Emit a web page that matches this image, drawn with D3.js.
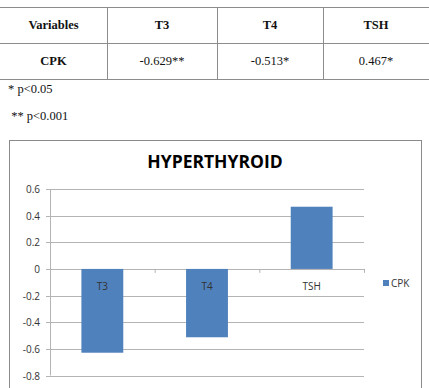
<!DOCTYPE html>
<html>
<head>
<meta charset="utf-8">
<script src="https://cdn.jsdelivr.net/npm/d3@7"></script>
<style>
  body { margin: 0; background: #fff; }
  svg { display: block; }
</style>
</head>
<body>
<div id="chart"></div>
<script>
// table data
const tableHeader = ["Variables", "T3", "T4", "TSH"];
const tableRow = ["CPK", "-0.629**", "-0.513*", "0.467*"];
const notes = ["* p<0.05", " ** p<0.001"];

// chart data
const categories = ["T3", "T4", "TSH"];
const cpk = [-0.629, -0.513, 0.467];
const yTicks = [0.6, 0.4, 0.2, 0, -0.2, -0.4, -0.6, -0.8];
const chartTitle = "HYPERTHYROID";
const seriesName = "CPK";

const W = 429, H = 388;
const svg = d3.select("#chart").append("svg")
  .attr("width", W).attr("height", H);

// ---- table ----
const colX = [0, 107, 217, 323, 429];
const rowY = [7, 43, 79];
const tbl = svg.append("g");
tbl.selectAll("line.h").data(rowY).enter().append("line")
  .attr("x1", 0).attr("x2", W)
  .attr("y1", d => d + 0.5).attr("y2", d => d + 0.5)
  .style("stroke", "#8c8c8c");
tbl.selectAll("line.v").data(colX.slice(1, 4)).enter().append("line")
  .attr("x1", d => d + 0.5).attr("x2", d => d + 0.5)
  .attr("y1", rowY[0]).attr("y2", rowY[2])
  .style("stroke", "#8c8c8c");

function cellText(row, y, bold) {
  tbl.selectAll(null).data(row).enter().append("text")
    .attr("x", (d, i) => (colX[i] + colX[i + 1]) / 2)
    .attr("y", y)
    .attr("text-anchor", "middle")
    .style("font-family", "'Liberation Serif', serif")
    .style("font-size", "12.5px")
    .style("font-weight", (d, i) => (bold || i === 0) ? "bold" : "normal")
    .style("fill", "#111")
    .text(d => d);
}
cellText(tableHeader, 29, true);
cellText(tableRow, 65, false);

svg.selectAll("text.note").data(notes).enter().append("text")
  .attr("x", 8)
  .attr("y", (d, i) => 93 + i * 27)
  .style("font-family", "'Liberation Serif', serif")
  .style("font-size", "12.5px")
  .attr("xml:space", "preserve")
  .style("fill", "#111")
  .text(d => d);

// ---- chart frame ----
svg.append("rect")
  .attr("x", 9.5).attr("y", 140.5)
  .attr("width", 412).attr("height", 260)
  .style("fill", "#fff")
  .style("stroke", "#8a8a8a");

svg.append("text")
  .attr("x", 215).attr("y", 168)
  .attr("text-anchor", "middle")
  .style("font-family", "'Open Sans', sans-serif")
  .style("font-weight", "bold")
  .style("font-size", "17.5px")
  .style("fill", "#000")
  .text(chartTitle);

// ---- plot ----
const plotL = 50, plotR = 364;
let x = d3.scaleBand()
  .domain(categories)
  .range([plotL, plotR])
  .paddingInner(0.6)
  .paddingOuter(0.3);
let y = d3.scaleLinear()
  .domain([-0.8, 0.6])
  .range([375.5, 189]);

const g = svg.append("g");

// gridlines
g.selectAll("line.grid").data(yTicks).enter().append("line")
  .attr("x1", plotL - 4).attr("x2", plotR)
  .attr("y1", d => Math.round(y(d)) + 0.5)
  .attr("y2", d => Math.round(y(d)) + 0.5)
  .style("stroke", "#b4b4b4");

// y axis line
g.append("line")
  .attr("x1", plotL + 0.5).attr("x2", plotL + 0.5)
  .attr("y1", y(0.6)).attr("y2", y(-0.8))
  .style("stroke", "#b4b4b4");

// y tick labels (plain hyphen minus, as in the source)
g.selectAll("text.ytick").data(yTicks).enter().append("text")
  .attr("x", 40)
  .attr("y", d => y(d) + 4)
  .attr("text-anchor", "end")
  .style("font-family", "'Open Sans', sans-serif")
  .style("font-size", "10px")
  .style("fill", "#333")
  .text(d => d === 0 ? "0" : d.toFixed(1));

// bars
g.selectAll("rect.bar").data(cpk).enter().append("rect")
  .attr("x", (d, i) => x(categories[i]))
  .attr("width", x.bandwidth())
  .attr("y", d => y(Math.max(0, d)))
  .attr("height", d => Math.abs(y(d) - y(0)))
  .style("fill", "#4f81bd");

// category ticks on zero line
const step = (plotR - plotL) / categories.length;
g.selectAll("line.ctick").data(d3.range(categories.length + 1)).enter().append("line")
  .attr("x1", d => plotL + d * step + 0.5)
  .attr("x2", d => plotL + d * step + 0.5)
  .attr("y1", y(0)).attr("y2", y(0) + 4)
  .style("stroke", "#b4b4b4");

// category labels
g.selectAll("text.cat").data(categories).enter().append("text")
  .attr("x", d => x(d) + x.bandwidth() / 2)
  .attr("y", y(0) + 21)
  .attr("text-anchor", "middle")
  .style("font-family", "'Open Sans', sans-serif")
  .style("font-size", "10px")
  .style("fill", "#333")
  .text(d => d);

// legend
svg.append("rect")
  .attr("x", 383).attr("y", 280)
  .attr("width", 6).attr("height", 6)
  .style("fill", "#4f81bd");
svg.append("text")
  .attr("x", 391).attr("y", 287)
  .style("font-family", "'Open Sans', sans-serif")
  .style("font-size", "10px")
  .style("fill", "#333")
  .text(seriesName);
</script>
</body>
</html>
